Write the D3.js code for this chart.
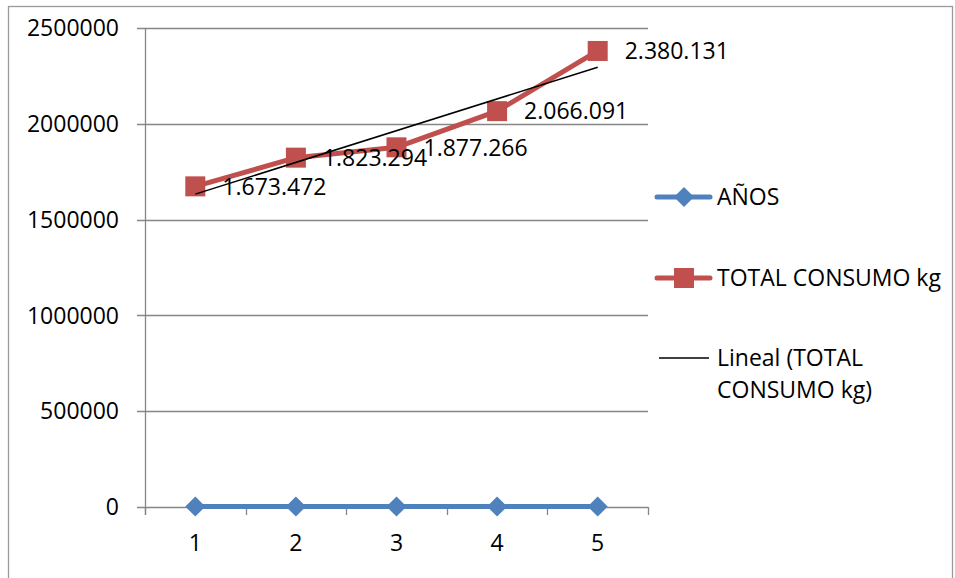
<!DOCTYPE html>
<html>
<head>
<meta charset="utf-8">
<script src="https://cdn.jsdelivr.net/npm/d3@7"></script>
<style>
  html, body { margin: 0; padding: 0; background: #fff; }
  svg { display: block; }
  text { font-family: "Open Sans", "Liberation Sans", sans-serif; fill: #000; }
</style>
</head>
<body>
<svg id="chart" width="955" height="578"></svg>
<script>
// Categories and series
const categories = [1, 2, 3, 4, 5];
const anios = [2008, 2009, 2010, 2011, 2012];
const totalConsumo = [1673472, 1823294, 1877266, 2066091, 2380131];
const dataLabels = ["1.673.472", "1.823.294", "1.877.266", "2.066.091", "2.380.131"];
const yTicks = [0, 500000, 1000000, 1500000, 2000000, 2500000];
const legendLabels = ["AÑOS", "TOTAL CONSUMO kg", ["Lineal (TOTAL", "CONSUMO kg)"]];

const svg = d3.select("#chart");
const blue = "#4F81BD", red = "#C0504D", grid = "#868686";
const fontSize = 23;

// Chart frame
svg.append("rect")
  .attr("x", 8.5).attr("y", 6.5).attr("width", 944).attr("height", 590)
  .attr("fill", "none").attr("stroke", "#9a9a9a").attr("stroke-width", 1.3);

const plot = { left: 145, right: 648, top: 28, bottom: 507 };

const x = d3.scaleBand().domain(categories).range([plot.left, plot.right]);
const xc = d => x(d) + x.bandwidth() / 2;
const y = d3.scaleLinear().domain([0, 2500000]).range([plot.bottom, plot.top]);

// Horizontal gridlines (extend past the axis as tick marks)
svg.append("g").selectAll("line").data(yTicks).join("line")
  .attr("x1", plot.left - 8).attr("x2", plot.right)
  .attr("y1", d => Math.round(y(d)) + 0.5).attr("y2", d => Math.round(y(d)) + 0.5)
  .attr("stroke", grid).attr("stroke-width", 1.3);

// Y axis line
svg.append("line")
  .attr("x1", plot.left + 0.5).attr("x2", plot.left + 0.5)
  .attr("y1", plot.top).attr("y2", plot.bottom + 8)
  .attr("stroke", grid).attr("stroke-width", 1.3);

// X axis tick marks at band boundaries
const bounds = categories.map(c => x(c)).concat([plot.right]);
svg.append("g").selectAll("line").data(bounds).join("line")
  .attr("x1", d => Math.round(d) + 0.5).attr("x2", d => Math.round(d) + 0.5)
  .attr("y1", plot.bottom).attr("y2", plot.bottom + 8)
  .attr("stroke", grid).attr("stroke-width", 1.3);

// Y tick labels
svg.append("g").selectAll("text").data(yTicks).join("text")
  .attr("x", 119).attr("y", d => y(d))
  .attr("dy", "0.36em").attr("text-anchor", "end")
  .attr("font-size", fontSize)
  .text(d => d3.format("d")(d));

// X tick labels
svg.append("g").selectAll("text").data(categories).join("text")
  .attr("x", d => xc(d)).attr("y", 543)
  .attr("dy", "0.36em").attr("text-anchor", "middle")
  .attr("font-size", fontSize)
  .text(d => d);

const line = d3.line().x((d, i) => xc(categories[i])).y(d => y(d));

// AÑOS series
svg.append("path").datum(anios)
  .attr("d", line).attr("fill", "none")
  .attr("stroke", blue).attr("stroke-width", 5).attr("stroke-linejoin", "round");
const diamond = d3.symbol().type(d3.symbolSquare).size(200);
svg.append("g").selectAll("path").data(anios).join("path")
  .attr("d", diamond)
  .attr("transform", (d, i) => `translate(${xc(categories[i])},${y(d)}) rotate(45)`)
  .attr("fill", blue);

// TOTAL CONSUMO series
svg.append("path").datum(totalConsumo)
  .attr("d", line).attr("fill", "none")
  .attr("stroke", red).attr("stroke-width", 5).attr("stroke-linejoin", "round");
svg.append("g").selectAll("rect").data(totalConsumo).join("rect")
  .attr("x", (d, i) => xc(categories[i]) - 10).attr("y", d => y(d) - 10)
  .attr("width", 20).attr("height", 20)
  .attr("fill", red);

// Linear trend (least squares over the category index)
const n = categories.length;
const mx = d3.mean(categories), my = d3.mean(totalConsumo);
const slope = d3.sum(categories, (c, i) => (c - mx) * (totalConsumo[i] - my)) /
              d3.sum(categories, c => (c - mx) * (c - mx));
const intercept = my - slope * mx;
const trend = categories.map(c => intercept + slope * c);
svg.append("line")
  .attr("x1", xc(categories[0])).attr("y1", y(trend[0]))
  .attr("x2", xc(categories[n - 1])).attr("y2", y(trend[n - 1]))
  .attr("stroke", "#000").attr("stroke-width", 1.5);

// Data labels, placed right of each point
svg.append("g").selectAll("text").data(totalConsumo).join("text")
  .attr("x", (d, i) => xc(categories[i]) + 27).attr("y", d => y(d))
  .attr("dy", "0.36em")
  .attr("font-size", fontSize)
  .text((d, i) => dataLabels[i]);

// Legend
const lg = svg.append("g");
const lx0 = 657, lx1 = 710, tx = 717;
// AÑOS
lg.append("line").attr("x1", lx0).attr("x2", lx1).attr("y1", 197).attr("y2", 197)
  .attr("stroke", blue).attr("stroke-width", 5).attr("stroke-linecap", "round");
lg.append("path").attr("d", diamond).attr("transform", "translate(684,197) rotate(45)").attr("fill", blue);
lg.append("text").attr("x", tx).attr("y", 197).attr("dy", "0.36em").attr("font-size", fontSize).text(legendLabels[0]);
// TOTAL CONSUMO
lg.append("line").attr("x1", lx0).attr("x2", lx1).attr("y1", 278).attr("y2", 278)
  .attr("stroke", red).attr("stroke-width", 5).attr("stroke-linecap", "round");
lg.append("rect").attr("x", 674).attr("y", 268).attr("width", 20).attr("height", 20).attr("fill", red);
lg.append("text").attr("x", tx).attr("y", 278).attr("dy", "0.36em").attr("font-size", fontSize).text(legendLabels[1]);
// Trend
lg.append("line").attr("x1", 659).attr("x2", 709).attr("y1", 358).attr("y2", 358)
  .attr("stroke", "#000").attr("stroke-width", 1.5);
lg.append("text").attr("x", tx).attr("y", 358).attr("dy", "0.36em").attr("font-size", fontSize).text(legendLabels[2][0]);
lg.append("text").attr("x", tx).attr("y", 390).attr("dy", "0.36em").attr("font-size", fontSize).text(legendLabels[2][1]);
</script>
</body>
</html>
